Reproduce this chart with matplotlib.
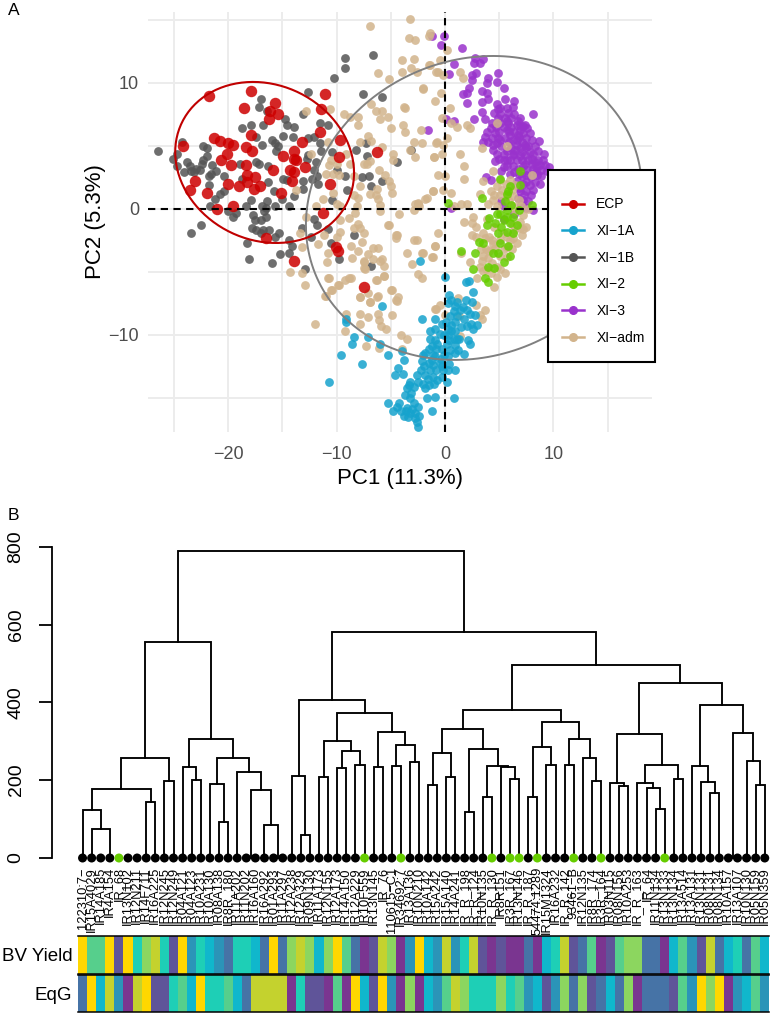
import matplotlib
matplotlib.use("Agg")
import matplotlib.pyplot as plt
import numpy as np
from matplotlib.colors import ListedColormap
from matplotlib.lines import Line2D
from matplotlib.patches import Rectangle

plt.rcParams['font.family'] = ['Liberation Sans', 'DejaVu Sans']

# PCA scatter, (PC1, PC2)
ecp = [(-21.8,9.0),(-17.9,9.4),(-11.1,9.1),(-18.5,8.0),(-15.7,8.4),(-16.1,7.8),(-15.4,7.5),(-16.2,7.1),
       (-11.4,7.9),(-11.5,6.1),(-17.9,5.9),(-21.3,5.6),(-20.8,5.4),(-24.2,5.0),(-20.0,5.2),(-19.6,5.1),
       (-18.4,4.9),(-17.8,4.6),(-20.1,4.4),(-20.7,3.9),(-19.7,3.5),(-18.4,3.5),(-13.2,5.3),(-13.9,4.6),
       (-14.9,4.2),(-13.9,4.0),(-13.7,3.9),(-12.9,3.3),(-15.9,3.1),(-14.3,3.1),(-13.9,2.9),(-9.7,5.5),
       (-9.8,4.1),(-6.3,4.5),(-18.3,2.7),(-17.5,2.5),(-23.1,2.2),(-23.5,1.5),(-22.0,1.3),(-20.0,2.0),
       (-19.0,1.8),(-18.3,2.1),(-17.6,1.6),(-17.1,1.8),(-15.1,1.3),(-14.1,2.2),(-10.6,2.0),(-21.0,0.0),
       (-19.6,0.2),(-11.3,-0.3),(-16.5,-2.3),(-13.9,-4.1),(-10.1,-3.0),(-9.9,-3.3),(-7.5,-6.2)]

xi_1a = [(-2.3,-4.1),(0.0,-5.4),(1.9,-5.8),(2.2,-5.7),(2.6,-6.6),(-5.8,-7.7),(-9.1,-8.7),(-9.1,-9.0),
         (-8.4,-10.2),(-8.6,-10.7),(-7.1,-10.2),(-6.0,-10.7),(-9.6,-11.6),(-7.7,-12.3),(-5.3,-11.6),
         (-10.7,-13.7),(-2.1,-8.7),(-0.9,-8.7),(0.4,-6.8),(0.6,-7.2),(2.5,-7.4),(0.9,-7.7),(1.7,-7.8),
         (2.0,-8.0),(1.4,-8.0),(0.8,-8.1),(2.8,-8.4),(0.5,-8.5),(1.8,-8.7),(0.9,-9.0),(2.0,-9.3),(3.0,-9.2),
         (2.6,-9.5),(-0.3,-9.1),(-0.9,-9.5),(0.3,-9.5),(-1.4,-9.7),(0.9,-9.7),(-0.1,-10.0),(-1.4,-10.3),
         (0.8,-10.3),(2.1,-10.4),(2.3,-10.7),(-0.7,-10.7),(0.2,-10.7),(0.9,-10.8),(-1.5,-11.1),(-0.8,-11.1),
         (0.5,-11.2),(1.2,-11.2),(1.8,-11.5),(-4.0,-11.3),(-2.0,-11.6),(-0.9,-11.7),(-0.1,-11.6),(-3.8,-12.0),
         (-2.1,-12.1),(-1.5,-12.2),(-0.5,-12.2),(-4.3,-12.6),(-1.4,-12.8),(-0.8,-12.8),(0.3,-12.8),(0.9,-12.8),
         (-2.6,-13.2),(-1.8,-13.2),(-1.1,-13.3),(-0.3,-13.3),(-4.6,-13.2),(-3.9,-13.1),(-3.2,-13.7),(-2.5,-13.7),
         (-1.5,-14.0),(0.2,-13.7),(-3.5,-14.2),(-1.8,-14.2),(-3.1,-14.6),(-3.7,-14.8),(-1.7,-15.0),(-0.9,-14.9),
         (0.8,-15.0),(-5.3,-15.4),(-4.2,-15.4),(-2.9,-15.4),(-4.4,-15.7),(-4.8,-16.0),(-3.5,-15.8),(-2.5,-15.7),
         (-1.2,-16.0),(-3.2,-16.2),(-2.8,-16.2),(-3.8,-16.4),(-2.6,-16.9),(-2.5,-17.3),(-1.2,-12.0),(-0.2,-12.8),
         (-0.9,-10.4),(1.1,-10.3),(0.6,-9.2),(0.3,-10.0),
         (0.3,-7.5),(1.1,-7.4),(1.9,-7.2),(2.3,-8.3),(1.1,-8.5),(0.6,-9.7),(1.5,-9.4),(2.4,-9.1),(0.1,-9.0),
         (-0.5,-9.9),(1.3,-10.3),(0.4,-10.4),(-0.3,-11.1),(0.9,-11.4),(0.3,-11.7),(-1.2,-10.9),(-1.8,-11.4),
         (-1.1,-11.6),(-0.4,-11.9),(0.4,-12.3),(-1.9,-12.5),(-1.1,-12.4),(-0.3,-12.5),(-2.2,-12.8),(-1.6,-13.5),
         (-0.7,-13.6),(-1.0,-13.9),(-2.0,-13.9),(-2.9,-14.1),(-3.2,-15.0),(-3.6,-16.0),(-3.0,-15.9),(-4.1,-16.0),
         (-3.4,-16.5),(-2.8,-16.6),(-2.4,-16.4),(-3.3,-14.0)]

xi_1b = [(-9.2,12.0),(-9.2,11.2),(-6.6,12.2),(-10.2,10.4),(-12.6,9.3),(-7.6,9.1),(-5.8,8.9),(-17.0,8.7),
         (-17.2,8.1),(-16.4,7.8),(-13.1,7.5),(-14.8,7.1),(-14.6,6.7),(-17.9,6.7),(-16.8,6.7),(-13.9,6.5),
         (-11.5,6.8),(-10.8,6.7),(-18.7,6.4),(-17.4,5.7),(-14.9,5.8),(-14.0,5.7),(-16.0,5.5),(-15.7,5.2),
         (-15.4,5.0),(-16.9,5.1),(-15.6,4.6),(-12.6,5.6),(-12.1,5.7),(-11.5,5.2),(-11.4,4.6),(-10.4,4.5),
         (-8.2,4.7),(-7.3,5.2),(-7.2,4.2),(-4.4,3.7),(-26.5,4.6),(-24.3,5.3),(-24.7,4.4),(-25.1,4.0),
         (-24.7,3.4),(-24.1,2.9),(-23.8,3.7),(-23.5,3.4),(-23.4,3.0),(-23.0,3.2),(-23.2,2.9),(-22.6,3.1),
         (-22.4,3.6),(-22.3,3.9),(-22.0,4.2),(-22.3,5.0),(-22.0,4.8),(-21.5,3.5),(-21.1,3.0),(-21.6,2.8),
         (-21.8,2.6),(-20.4,2.6),(-21.8,1.9),(-18.9,3.6),(-17.4,3.7),(-17.2,3.6),(-16.3,3.4),(-18.7,2.4),
         (-14.9,2.4),(-14.6,2.3),(-13.1,2.2),(-12.3,2.4),(-11.8,2.6),(-11.7,2.0),(-11.9,3.7),(-12.6,4.3),
         (-12.7,4.0),(-12.1,3.1),(-10.0,3.1),(-9.2,2.6),(-7.7,2.5),(-7.0,2.6),(-5.8,2.2),(-6.8,1.8),
         (-9.0,1.5),(-15.8,1.4),(-16.3,2.1),(-15.0,0.8),(-13.9,1.0),(-13.1,1.6),(-20.4,1.4),(-20.8,1.2),
         (-21.2,0.8),(-21.7,0.2),(-20.0,-0.2),(-19.6,-0.6),(-19.3,-0.3),(-18.4,0.2),(-17.9,0.7),(-16.4,0.6),
         (-16.9,0.2),(-16.5,0.1),(-16.7,-0.2),(-15.7,0.2),(-14.4,0.2),(-17.7,-0.5),(-17.5,-0.9),(-17.0,-0.9),
         (-16.5,-0.6),(-17.8,-1.5),(-17.4,-1.7),(-16.8,-1.7),(-16.2,-1.7),(-17.0,-1.9),(-15.7,-2.2),(-15.3,-1.9),
         (-22.5,-1.3),(-23.4,-1.9),(-18.3,-2.7),(-14.4,-2.5),(-14.1,-2.9),(-15.2,-3.6),(-14.4,-3.5),(-18.1,-4.0),
         (-16.0,-4.3),(-12.9,-4.8),(-13.2,-1.5),(-12.4,-2.2),(-12.1,-0.8),(-11.8,-1.3),(-10.8,-1.6),(-10.4,0.7),
         (-10.5,-2.7),(-9.8,-4.0),(-8.4,-2.1),(-6.8,-4.5),(-3.1,4.7)]

xi_2 = [(0.3,0.5),(1.5,-3.3),(6.9,3.0),(5.1,2.4),(3.4,0.9),(6.0,1.8),(5.7,1.2),(6.9,1.9),(8.0,0.3),(5.1,-0.4),
        (5.7,-0.1),(6.3,-0.6),(5.4,-0.9),(6.0,-1.1),(6.6,-1.3),(4.1,-0.7),(3.9,-1.3),(4.6,-1.1),(5.2,-1.4),
        (5.7,-1.8),(6.3,-1.9),(4.9,-1.9),(3.1,-2.6),(3.5,-2.7),(5.1,-2.7),(5.8,-2.9),(4.4,-3.5),(4.9,-3.5),
        (6.0,-3.7),(5.4,-4.2),(2.8,-3.5),(2.6,-4.8),(4.0,-4.6),(4.5,-4.7),(4.0,-5.8),(3.7,-5.5),(5.7,-0.6),
        (6.1,0.3),(6.8,-0.1),(4.8,-0.4),(5.5,0.6),(5.8,1.4)]

xi_3 = [(-1.2,13.7),(-0.1,13.7),(-0.4,13.0),(1.6,12.8),(2.8,12.0),(3.5,11.9),(2.7,11.6),(3.2,11.6),(0.8,11.5),
        (2.9,10.8),(0.4,10.7),(4.9,10.8),(2.5,10.6),(2.5,10.2),(4.0,10.4),(3.9,10.0),(4.8,10.1),(5.4,9.6),
        (2.2,9.6),(1.7,9.1),(2.0,9.2),(2.0,8.4),(3.4,9.4),(3.9,9.2),(3.4,8.5),(4.0,8.7),(5.5,8.7),(6.4,8.6),
        (4.8,8.3),(3.4,7.7),(2.7,7.1),(0.1,7.1),(0.8,7.0),(8.1,7.5),(-1.6,6.3),(5.1,8.0),(5.7,8.0),(6.3,8.1),
        (4.5,7.6),(5.1,7.5),(5.8,7.6),(6.4,7.5),(6.9,7.2),(3.7,7.1),(4.3,6.8),(5.1,6.8),(5.8,6.8),(6.6,6.7),
        (7.4,6.7),(5.7,6.3),(6.4,6.1),(7.2,6.0),(7.8,6.0),(4.6,6.0),(4.3,5.6),(3.5,5.3),(4.0,5.3),(4.8,5.2),
        (5.5,5.6),(6.3,5.5),(7.1,5.3),(8.0,5.5),(8.7,5.4),(5.2,5.0),(6.1,4.8),(6.9,4.8),(7.7,5.0),(4.4,4.7),
        (5.4,4.4),(6.4,4.4),(7.4,4.3),(8.1,4.4),(9.1,4.4),(4.6,3.8),(5.7,3.9),(6.6,3.9),(7.7,3.9),(8.6,3.9),
        (9.2,3.5),(5.4,3.3),(6.3,3.4),(7.2,3.4),(8.1,3.2),(8.9,3.1),(9.4,3.0),(6.0,2.8),(6.8,2.8),(7.5,2.7),
        (8.5,2.7),(5.2,3.0),(3.8,2.5),(8.8,2.0),(7.2,2.0),(7.8,1.9),(6.9,1.4),(7.5,1.4),(8.1,1.5),(7.2,0.7),
        (7.7,0.6),(5.2,0.6),(5.4,0.2),(0.6,0.1),(8.1,-0.1),(6.4,-0.4),(5.4,-0.8),(4.2,2.3),(6.3,4.3),(6.6,5.1),
        (6.0,5.9),(6.8,5.7),(4.9,5.6),(5.7,7.0),(8.0,4.0),(7.1,3.9),(6.0,3.9),(8.3,3.7),(8.8,3.5),(7.4,5.1),(6.9,6.3),
        (4.9,7.2),(5.5,7.2),(6.1,7.2),(6.7,7.0),(7.2,6.6),(4.7,6.5),(5.4,6.5),(6.1,6.5),(6.9,6.6),(7.6,6.4),(5.0,6.1),
        (5.9,6.2),(6.7,5.9),(7.5,5.6),(5.1,5.5),(5.9,5.3),(6.6,5.5),(7.5,4.9),(8.3,5.0),(4.8,4.4),(5.7,4.6),(6.5,4.7),
        (7.1,4.5),(7.8,4.5),(8.6,4.6),(5.0,4.0),(5.4,3.9),(6.9,4.2),(7.4,3.6),(8.0,3.6),(8.5,3.4),(9.0,3.9),(5.7,3.4),
        (6.7,3.2),(7.6,3.1),(8.4,3.0),(6.4,2.9),(7.1,2.6),(7.9,2.5),(8.9,2.6),(9.6,3.3),(6.6,2.2),(7.5,2.1),(8.3,2.1),
        (6.8,1.7),(7.3,1.1),(7.9,1.1),(6.7,0.9),(7.0,0.3),(7.5,0.1),(4.9,7.9),(4.2,6.4),(3.9,6.1),(3.7,5.7),(4.4,5.1)]

xi_adm = [(-3.2,15.1),(-6.9,14.5),(-3.3,13.6),(-2.8,13.4),(-1.4,14.0),(-4.0,11.8),(-2.9,11.9),(-6.2,10.8),(-4.0,10.9),
          (-3.1,11.2),(-2.6,10.9),(-1.4,11.4),(-0.6,10.9),(-5.2,10.3),(-2.0,9.5),(-0.9,8.6),(-6.8,8.3),(-3.8,8.1),
          (-3.7,8.0),(-12.8,7.8),(-10.6,7.9),(-6.4,7.8),(-5.8,7.8),(-9.3,7.5),(-8.8,7.3),(-8.0,7.3),(-5.3,7.3),
          (-6.0,7.1),(-8.0,6.7),(-3.9,6.7),(-5.0,6.4),(-3.7,6.1),(-2.2,6.3),(-7.1,5.8),(-7.8,5.3),(-6.8,5.4),
          (-2.9,5.3),(-2.1,5.2),(-0.8,5.2),(-5.8,4.9),(-10.8,5.3),(-3.2,4.7),(-4.8,4.4),(-2.8,4.1),(-1.0,4.1),
          (-12.4,4.4),(-9.1,4.4),(-10.5,3.9),(-10.0,3.6),(-10.7,3.5),(-8.8,3.6),(-7.5,3.6),(-6.9,3.8),(-7.2,3.6),
          (-4.8,3.9),(-10.3,2.8),(-9.8,2.7),(-11.0,2.8),(-8.4,2.6),(-7.8,1.8),(-6.1,3.1),(-5.5,2.7),(-5.2,2.2),
          (-5.0,1.8),(-4.9,1.3),(-6.3,1.6),(-6.9,1.2),(-6.4,1.1),(-8.0,0.9),(-6.2,0.8),(-8.4,1.1),(-10.3,1.3),
          (-11.3,0.8),(-13.7,1.5),(-10.0,0.4),(-9.7,0.2),(-11.9,0.2),(-8.1,0.2),(-6.0,0.3),(-6.0,-0.2),(-8.3,-0.3),
          (-1.1,1.4),(-1.7,0.9),(-2.5,0.5),(-2.4,0.2),(-2.9,-0.1),(-4.2,-0.4),(-12.8,-0.6),(-9.7,-0.9),(-8.9,-0.7),
          (-8.0,-1.2),(-8.4,-1.5),(-7.8,-1.5),(-7.5,-1.9),(-5.2,-1.3),(-9.7,-1.8),(-11.2,-2.1),(-10.0,-2.2),
          (-13.4,-1.9),(-4.4,-2.1),(-4.5,-2.3),(-2.6,-2.5),(-2.9,-2.5),(-0.9,-2.9),(-8.7,-2.9),(-7.7,-2.6),(-8.0,-3.3),
          (-11.7,-2.8),(-13.2,-3.0),(-2.0,-3.5),(-1.1,-3.8),(-3.5,-3.5),(-6.6,-3.1),(-6.2,-3.1),(-7.1,-3.6),(-7.5,-4.2),
          (-6.6,-4.0),(-6.0,-4.1),(-5.6,-4.5),(-8.6,-3.9),(-10.9,-4.2),(-7.5,-4.7),(-10.8,-3.5),(-14.3,-5.0),(-13.2,-5.1),
          (-2.5,-5.2),(-2.1,-5.5),(-6.3,-5.6),(-5.6,-5.3),(-10.8,-5.5),(-8.9,-5.5),(-12.9,-6.0),(-10.5,-6.4),(-9.9,-6.0),
          (-4.9,-6.4),(-6.3,-7.0),(-7.8,-7.0),(-6.9,-7.4),(-4.5,-7.2),(-11.1,-6.9),(-0.9,-7.9),
          (-12.0,-9.1),(-9.1,-8.3),(-9.2,-9.7),(-7.8,-8.3),(-7.8,-9.1),(-7.1,-8.6),(-6.2,-8.3),(-6.1,-8.8),(-5.9,-9.3),
          (-5.4,-9.5),(-4.9,-8.4),(-4.1,-10.0),(-3.5,-10.3),(-7.3,-10.9),(-6.1,-11.0),(-7.8,-7.0),(-7.1,-6.7),(-6.9,-7.4),
          (-6.2,-6.9),(-5.0,-6.4),(-4.4,-7.3),(-4.3,-7.0),(-11.0,-6.9),(-10.7,-5.5),(-10.4,-6.4),(-9.8,-6.0),(-9.2,-5.6),
          (-8.7,-5.5),(-7.4,-4.8),(-6.4,-5.6),(-5.6,-5.3),(-3.0,-4.4),(-7.5,-4.1),(-5.8,-4.0),(-5.3,-1.3),(-4.5,-2.1),
          (-2.8,0.4),(-2.5,0.4),(-0.8,-7.9),(-0.5,-7.6),(1.3,-8.5),(1.2,-7.1),(2.9,-7.6),(3.7,-8.0),(3.2,-8.4),(3.4,-8.7),
          (0.0,-8.4),(1.4,-10.1),(-4.0,-11.1),
          (-1.5,13.7),(0.2,12.6),(-0.5,11.8),(-1.5,11.4),(-0.8,10.9),(-0.2,10.6),(1.4,10.9),(1.7,10.4),(-2.0,9.6),(-0.4,9.2),
          (0.5,8.0),(-0.3,7.2),(0.6,6.8),(1.1,6.5),(2.0,6.7),(2.3,6.4),(0.2,5.6),(-0.7,5.3),(-0.2,5.1),(1.4,4.4),(-1.0,4.1),
          (-0.3,4.4),(1.8,3.4),(-0.6,2.7),(0.0,2.6),(1.8,2.4),(3.5,2.2),(4.4,3.0),(-1.1,1.4),(-0.2,1.5),(0.6,1.3),(-1.8,0.8),
          (0.8,0.2),(1.5,0.4),(2.0,0.4),(3.2,1.2),(2.6,-0.6),(1.8,-1.0),(2.5,-1.1),(-0.6,-1.9),(2.5,-2.1),(-0.9,-2.9),
          (-2.1,-3.5),(-1.2,-3.8),(2.3,-4.2),(1.5,-3.5),
          (5.1,2.3),(6.0,2.3),(6.5,1.9),(4.8,1.8),(4.5,1.1),(4.0,0.4),(5.1,1.1),(6.3,1.0),(6.8,0.7),(4.8,0.2),(8.0,2.7),
          (7.2,-0.5),(7.7,0.0),(7.5,-1.4),(6.9,-1.0),(6.4,-1.7),(7.1,-2.1),(6.6,-2.7),(6.0,-2.5),(3.5,-1.9),(4.1,-2.2),
          (4.5,-1.4),(5.1,-2.5),(4.6,-3.1),(4.1,-3.3),(3.5,-3.7),(4.0,-3.9),(5.1,-3.7),(5.7,-3.8),(3.2,-4.6),(3.8,-4.8),
          (4.8,-4.6),(4.8,-5.4),(5.5,-5.1),(3.0,-5.5),(4.5,-6.2),(3.4,-4.1),(5.7,-3.0),(4.8,6.8),(5.7,5.0),(3.4,4.8),
          (2.9,-2.2),(6.3,0.2),(5.7,1.0),(4.3,-2.5),(5.4,-1.9),
          (3.7,-2.3),(4.4,-2.8),(5.4,-3.2),(6.2,-3.2),(3.8,-3.2),(4.3,-4.3),(3.5,-4.9),(4.2,-5.1),(5.1,-4.8),(3.9,-0.8),
          (5.9,0.6),(6.5,-0.2),(7.0,0.2),(4.4,0.7),(5.3,1.5),(5.6,2.0),(6.2,1.5),(4.2,1.4),(6.2,-1.2),(6.9,-1.5),(7.2,-1.6),
          (5.7,-2.2),(6.3,-2.3),(2.9,-1.4),(3.3,-3.2)]

group_names = ['ECP', 'XI\u22121A', 'XI\u22121B', 'XI\u22122', 'XI\u22123', 'XI\u2212adm']
group_colors = ['#cd0000', '#16a3cd', '#555555', '#66cd00', '#9932cc', '#d2b48c']

# ellipses: centre, half widths, shear in degrees
ecp_ellipse = (-16.64, 3.69, 8.25, 6.39, -7.4)
all_ellipse = (2.67, 0.08, 15.5, 12.06, 6.5)

# dendrogram: (height, left, right), a plain number is a leaf position
tree = (790,
    (555,
        (256,
            (178,
                (124, 0, (75, 1, 3)),
                (145, 7, 8)),
            (197, 9, 10)),
        (305,
            (233, 11, (200, 12, 13)),
            (257,
                (191, 14, (92, 15, 16)),
                (220, 17, (175, 18.5, (84, 20, 21.5)))))),
    (582,
        (406,
            (212, 23, (60, 24, 25)),
            (372,
                (301,
                    (207, 26, 27),
                    (276, (232, 28, 29), (240, 30, 31))),
                (323,
                    (233, 32, 33),
                    (290, (237, 34, 35), (246, 36, 37))))),
        (497,
            (381,
                (332,
                    (269, (187, 38, 39), (208, 40, 41)),
                    (281,
                        (118, 42, 43),
                        (237, (157, 44, 45), (234, 46, (202, 47, 48))))),
                (350,
                    (286, (157, 49, 50), (240, 51, 52)),
                    (307,
                        (240, 53, 54),
                        (256, 55, (199, 56, 57))))),
            (451,
                (318,
                    (193, 58, (185, 59, 60)),
                    (239,
                        (194, 61, (179, 62, (125, 63, 64))),
                        (204, 65, 66))),
                (393,
                    (236, 67, (195, 68, (168, 69, 70))),
                    (321, 71.5, (249, 73, (187, 74, 75))))))))

green_leaves = [4, 31, 35, 45, 47, 48, 50, 54, 57, 64]

leaf_labels = ['122310:7\u2212', 'IR15A4029', 'IR14A185', 'IR4A154', 'IR_68', 'IR13N102', 'IR12N211', 'IR14F711',
               'IR16A225', 'IR12N245', 'IR12N249', 'IR04A121', 'IR04A123', 'IR10A231', 'IR10A130', 'IR08A138',
               'IR8R_180', 'IR11A202', 'IR11N202', 'IR16A160', 'IR16A292', 'IR01A293', 'IR11A297', 'IR12A238',
               'IR12A329', 'IR09N130', 'IR11A173', 'IR12N155', 'IR12A173', 'IR14A150', 'IR12A229', 'IR10F559',
               'IR13N145', 'IR_76', '110615\u2212C1', 'IR34692:7', 'IR13A136', 'IR10N210', 'IR10A142', 'IR15A242',
               'IR15A140', 'IR14A241', 'IR_R_198', 'IR_R_124', 'IR10N135', 'IR_R_130', 'IR8R151', 'IR3R_167',
               'IR13N146', 'IR_R_187', '54474:1289', 'IR15M1324', 'IR16A232', 'IR_R_142', '93461\u2212B', 'IR12N135',
               'IR8R_174', 'IR3R_164', 'IR03N115', 'IR08N156', 'IR10A253', 'IR_R_163', 'IR_64', 'IR11N134',
               'IR13N133', 'IR13N134', 'IR13A514', 'IR13A131', 'IR13N131', 'IR08N131', 'IR08N134', 'IR10A157',
               'IR13A107', 'IR10N130', 'IR05N159', 'IR05N359']

# heatmap classes, 0 purple ... 9 gold
bv_yield = [9,6,6,9,1,9,5,7,8,5,1,9,3,5,4,3,2,5,5,4,2,9,2,7,8,7,4,7,9,6,2,0,1,8,7,0,3,9,
            4,3,8,3,5,8,1,0,1,0,0,2,0,4,5,8,1,2,6,0,1,6,7,7,2,2,0,4,6,3,1,8,2,4,5,2,6,4]
eqg = [2,9,4,8,3,0,8,9,1,1,5,6,4,9,5,5,6,4,2,8,8,8,8,0,5,1,1,0,6,0,9,4,1,9,3,0,7,0,
       4,3,6,8,7,5,5,5,7,5,6,3,4,1,3,7,2,7,1,2,4,2,7,0,2,2,2,1,6,3,9,7,9,0,3,4,6,3]
heat_colors = ['#7a3590', '#5f5499', '#4673a6', '#2b94b8', '#10b7cc',
               '#1ecfb6', '#56cf8c', '#8cd65f', '#c4d22e', '#ffd700']

W, H = 776, 1013


def px_rect(left, top, right, bottom):
    return [left / W, 1 - bottom / H, (right - left) / W, (bottom - top) / H]


def ellipse_xy(cx, cy, a, b, shear):
    t = np.linspace(0, 2 * np.pi, 200)
    return cx + a * np.cos(t), cy + b * np.sin(t + np.radians(shear))


def draw_tree(ax, node):
    if not isinstance(node, tuple):
        return node, 0
    h, left, right = node
    x1, h1 = draw_tree(ax, left)
    x2, h2 = draw_tree(ax, right)
    ax.plot([x1, x1, x2, x2], [h1, h, h, h2], color='black', lw=1.35,
            solid_joinstyle='miter', clip_on=False, zorder=2)
    return (x1 + x2) / 2, h


fig = plt.figure(figsize=(W / 100, H / 100), dpi=100)

# panel A
ax = fig.add_axes(px_rect(148, 12, 652, 432))
ax.set_xlim(-27.4, 19.1)
ax.set_ylim(-17.7, 15.63)
for s in ax.spines.values():
    s.set_visible(False)
ax.set_xticks([-20, -10, 0, 10])
ax.set_yticks([-10, 0, 10])
ax.set_xticks([-25, -15, -5, 5, 15], minor=True)
ax.set_yticks([-15, -5, 5, 15], minor=True)
ax.grid(True, which='both', color='#ececec', lw=1.4)
ax.set_axisbelow(True)
ax.tick_params(which='both', length=0)
ax.tick_params(axis='x', labelsize=13, labelcolor='#4d4d4d', pad=10)
ax.tick_params(axis='y', labelsize=13, labelcolor='#4d4d4d', pad=6.5)
ax.set_xlabel('PC1 (11.3%)', fontsize=16, labelpad=4)
ax.set_ylabel('PC2 (5.3%)', fontsize=16, labelpad=2)

draw_order = [(xi_1b, 2, 40), (xi_3, 4, 40), (xi_adm, 5, 40), (xi_2, 3, 40), (xi_1a, 1, 40), (ecp, 0, 68)]
for pts, g, size in draw_order:
    xs, ys = zip(*pts)
    ax.scatter(xs, ys, s=size, color=group_colors[g], alpha=0.85, linewidths=0, zorder=3, clip_on=False)

ax.axhline(0, color='black', lw=1.5, ls=(0, (3.5, 2.6)), zorder=4)
ax.axvline(0, color='black', lw=1.5, ls=(0, (3.5, 2.6)), zorder=4)
ax.plot(*ellipse_xy(*all_ellipse), color='#808080', lw=1.4, zorder=4)
ax.plot(*ellipse_xy(*ecp_ellipse), color='#c00000', lw=1.5, zorder=5)

box = Rectangle((548 / W, 1 - 362 / H), 107 / W, 192 / H, transform=fig.transFigure, facecolor='white',
                edgecolor='black', lw=1.5, clip_on=False, zorder=9)
ax.add_patch(box)
handles = [Line2D([], [], color=c, marker='o', ms=5.5, lw=1.8) for c in group_colors]
leg = ax.legend(handles, group_names, loc='upper left', bbox_to_anchor=(561.5 / W, 1 - 197.5 / H),
                bbox_transform=fig.transFigure, borderaxespad=0, fontsize=10, frameon=False,
                labelspacing=0.91, handlelength=1.6, handletextpad=0.9, borderpad=0)
leg.set_zorder(10)

# panel B
dend = fig.add_axes(px_rect(78, 546.7, 769.3, 858))
dend.set_xlim(-0.5, 75.5)
dend.set_ylim(0, 800)
dend.patch.set_visible(False)
for name in ['top', 'right', 'bottom']:
    dend.spines[name].set_visible(False)
dend.spines['left'].set_position(('outward', 19))
dend.spines['left'].set_bounds(0, 800)
dend.spines['left'].set_linewidth(1.3)
dend.set_xticks([])
dend.set_yticks([0, 200, 400, 600, 800])
dend.tick_params(axis='y', length=9.5, width=1.3, labelsize=14, pad=10)
for lab in dend.get_yticklabels():
    lab.set_rotation(90)
    lab.set_va('center')

draw_tree(dend, tree)
leaf_x = np.arange(len(leaf_labels))
leaf_c = ['#66cd00' if i in green_leaves else 'black' for i in leaf_x]
dend.scatter(leaf_x, np.zeros(len(leaf_x)), s=42, c=leaf_c, linewidths=0, clip_on=False, zorder=3)
for i, lab in enumerate(leaf_labels):
    dend.annotate(lab, (i, 0), xytext=(0, -6.5), textcoords='offset points', rotation=90,
                  ha='center', va='top', fontsize=9.3, annotation_clip=False)

cmap = ListedColormap(heat_colors)
for vals, name, top, bottom in [(bv_yield, 'BV Yield', 936, 973.5), (eqg, 'EqG', 975, 1012)]:
    hax = fig.add_axes(px_rect(78, top, 769.3, bottom), zorder=5)
    hax.pcolormesh(np.arange(77) - 0.5, [0, 1], np.array([vals]), cmap=cmap, vmin=-0.5, vmax=9.5)
    hax.set_xticks([])
    hax.set_yticks([0.5])
    hax.set_yticklabels([name], fontsize=13.5)
    hax.tick_params(axis='y', length=0, pad=4)
    hax.spines['left'].set_visible(False)
    hax.spines['right'].set_visible(False)
    hax.spines['top'].set_linewidth(1.1)
    hax.spines['bottom'].set_linewidth(1.1)

fig.text(8 / W, 1 - 15 / H, 'A', fontsize=12.5)
fig.text(8 / W, 1 - 520 / H, 'B', fontsize=12.5)

fig.savefig('out.png', dpi=100)
